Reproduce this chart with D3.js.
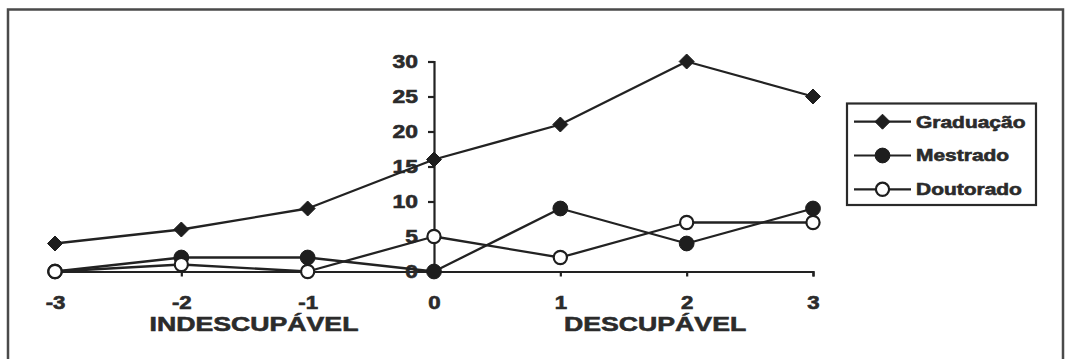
<!DOCTYPE html>
<html>
<head>
<meta charset="utf-8">
<script src="https://cdn.jsdelivr.net/npm/d3@7"></script>
<style>
  html, body { margin: 0; padding: 0; background: #fff; }
  svg { display: block; }
  text { font-family: "Liberation Sans", Arial, sans-serif; font-weight: bold; fill: #2b2b2b; stroke: #2b2b2b; stroke-width: 0.6px; }
</style>
</head>
<body>
<svg id="chart" width="1067" height="359"></svg>
<script>
// Scale positions (-3 … 3) on the horizontal axis
const categories = [-3, -2, -1, 0, 1, 2, 3];
// Counts for each education level
const graduacao = [4, 6, 9, 16, 21, 30, 25];
const mestrado  = [0, 2, 2, 0, 9, 4, 9];
const doutorado = [0, 1, 0, 5, 2, 7, 7];
const seriesNames = ["Graduação", "Mestrado", "Doutorado"];
const yTicks = [0, 5, 10, 15, 20, 25, 30];
// Side titles and the scale position each one is centred on
const sideTitles = ["INDESCUPÁVEL", "DESCUPÁVEL"];
const sideTitleAt = [-1.425, 1.75];

const W = 1067, H = 359;
const ink = "#222";
const stretch = 1.27; // wide lettering of the original typesetting

const svg = d3.select("#chart");

// widen every glyph run horizontally while keeping its anchor
function widen(sel) {
  sel.each(function () {
    const len = this.getComputedTextLength();
    d3.select(this).attr("textLength", len * stretch).attr("lengthAdjust", "spacingAndGlyphs");
  });
}

function textStyle(sel, size) {
  sel.attr("font-size", size).attr("fill", "#2b2b2b")
    .style("font-family", "'Liberation Sans', Arial, sans-serif").style("font-weight", "bold");
}

// outer frame (open at the bottom edge)
svg.append("path")
  .attr("d", `M8,${H + 2} V9.5 H1063 V${H + 2}`)
  .attr("fill", "none").attr("stroke", "#4a4a4a").attr("stroke-width", 2.5);

const x = d3.scaleLinear().domain([-3, 3]).range([55, 813]);
const y = d3.scaleLinear().domain([0, 30]).range([271.5, 61.5]);

// horizontal axis with downward ticks
const gx = svg.append("g").attr("transform", `translate(0,${y(0)})`)
  .call(d3.axisBottom(x).tickValues(categories).tickSize(5).tickSizeOuter(5).tickFormat(d => String(d)));
gx.selectAll("path, line").attr("stroke", ink).attr("stroke-width", 2.2);
gx.selectAll("text").attr("dy", 0).attr("y", 37).call(textStyle, 17.5);
widen(gx.selectAll("text"));

// vertical axis crossing at position 0
const gy = svg.append("g").attr("transform", `translate(${x(0)},0)`)
  .call(d3.axisLeft(y).tickValues(yTicks).tickSize(6).tickSizeOuter(6));
gy.selectAll("path, line").attr("stroke", ink).attr("stroke-width", 2.2);
gy.selectAll("text").attr("x", -16).attr("dy", "0.36em").call(textStyle, 18);
widen(gy.selectAll("text"));

// side titles under the axis
svg.selectAll("text.side").data(sideTitles).join("text")
  .attr("class", "side")
  .attr("x", (d, i) => x(sideTitleAt[i]))
  .attr("y", 331)
  .attr("text-anchor", "middle")
  .attr("font-size", 21)
  .text(d => d)
  .call(widen);

// series lines and markers
const allSeries = [graduacao, mestrado, doutorado];
const markerKinds = ["diamond", "dot", "ring"];
const line = d3.line().x((d, i) => x(categories[i])).y(d => y(d));

function drawMarker(g, kind, cx, cy) {
  if (kind === "diamond") {
    g.append("path")
      .attr("d", `M${cx},${cy - 7.5} L${cx + 7.5},${cy} L${cx},${cy + 7.5} L${cx - 7.5},${cy} Z`)
      .attr("fill", "#1e1e1e").attr("stroke", "#1e1e1e").attr("stroke-width", 1);
  } else if (kind === "dot") {
    g.append("circle").attr("cx", cx).attr("cy", cy).attr("r", 7.4)
      .attr("fill", "#1e1e1e").attr("stroke", "#1e1e1e").attr("stroke-width", 1);
  } else {
    g.append("circle").attr("cx", cx).attr("cy", cy).attr("r", 6.6)
      .attr("fill", "#fff").attr("stroke", "#1e1e1e").attr("stroke-width", 2.2);
  }
}

allSeries.forEach(vals => {
  svg.append("path").datum(vals).attr("d", line)
    .attr("fill", "none").attr("stroke", ink).attr("stroke-width", 2.3).attr("stroke-linejoin", "round");
});
allSeries.forEach((vals, s) => {
  const g = svg.append("g");
  vals.forEach((v, i) => drawMarker(g, markerKinds[s], x(categories[i]), y(v)));
});

// legend
const legend = svg.append("g");
legend.append("rect").attr("x", 847).attr("y", 103.5).attr("width", 189).attr("height", 101.5)
  .attr("fill", "#fff").attr("stroke", "#2a2a2a").attr("stroke-width", 2.2);
seriesNames.forEach((name, i) => {
  const cy = 121.7 + i * 33.8;
  legend.append("line").attr("x1", 854).attr("x2", 911).attr("y1", cy).attr("y2", cy)
    .attr("stroke", ink).attr("stroke-width", 2.2);
  drawMarker(legend, markerKinds[i], 882.5, cy);
  legend.append("text").attr("x", 916).attr("y", cy).attr("dy", "0.36em")
    .attr("font-size", 16.5).text(name).call(widen);
});
</script>
</body>
</html>
